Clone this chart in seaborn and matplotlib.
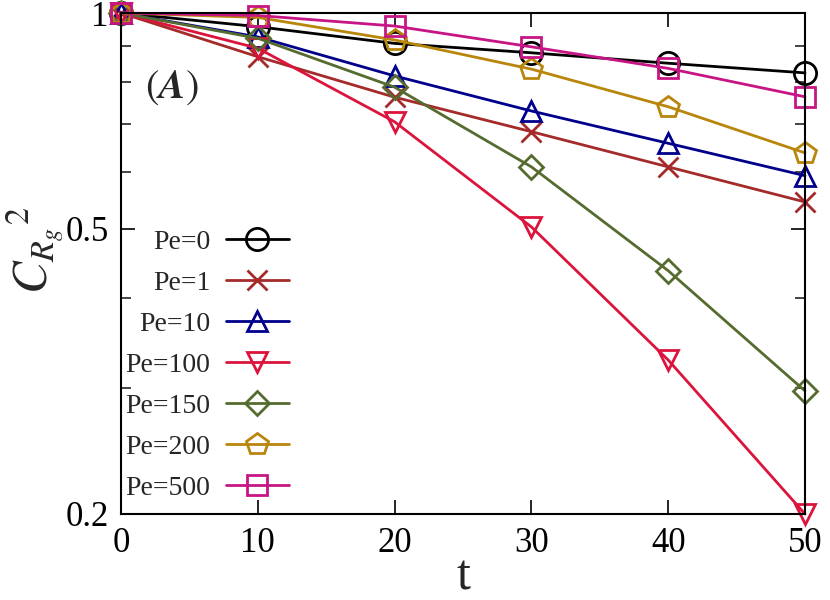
import numpy as np
import pandas as pd
import matplotlib
matplotlib.use("Agg")
import matplotlib.pyplot as plt
import seaborn as sns
from matplotlib.ticker import FixedLocator, NullFormatter

# ---- data ----
t = [0, 10, 20, 30, 40, 50]
labels = ["Pe=0", "Pe=1", "Pe=10", "Pe=100", "Pe=150", "Pe=200", "Pe=500"]
pe0   = [1.0, 0.957, 0.907, 0.880, 0.851, 0.825]
pe1   = [1.0, 0.869, 0.763, 0.683, 0.610, 0.545]
pe10  = [1.0, 0.926, 0.817, 0.730, 0.658, 0.593]
pe100 = [1.0, 0.893, 0.705, 0.503, 0.328, 0.200]
pe150 = [1.0, 0.922, 0.788, 0.610, 0.437, 0.297]
pe200 = [1.0, 0.986, 0.917, 0.835, 0.740, 0.638]
pe500 = [1.0, 0.992, 0.959, 0.897, 0.837, 0.764]
series = [pe0, pe1, pe10, pe100, pe150, pe200, pe500]
xticks = [0, 10, 20, 30, 40, 50]
yticks = [0.2, 0.5, 1.0]
yticklabels = ["0.2", "0.5", "1"]

colors = ["#000000", "#a52a2a", "#00008b", "#dc143c", "#556b2f", "#b8860b", "#c71585"]
markers = ["o", "x", "^", "v", "D", "p", "s"]
msizes = [16, 14, 14, 14, 12.5, 16, 15]

sns.set_theme(style="ticks")
plt.rcParams["font.family"] = ["Liberation Serif", "DejaVu Serif"]
plt.rcParams["mathtext.fontset"] = "stix"

fig = plt.figure(figsize=(8.3, 6.0), dpi=100)
ax = fig.add_axes([121 / 830, 86 / 600, (805 - 121) / 830, (514 - 13) / 600])

rows = []
for lab, vals in zip(labels, series):
    for tt, v in zip(t, vals):
        rows.append({"t": tt, "C": v, "Pe": lab})
df = pd.DataFrame(rows)

for lab, col, mk, ms in zip(labels, colors, markers, msizes):
    sub = df[df["Pe"] == lab]
    sns.lineplot(data=sub, x="t", y="C", ax=ax, color=col, marker=mk,
                 markersize=ms, markerfacecolor="none", markeredgecolor=col,
                 markeredgewidth=2.0, linewidth=2.0, label=lab, clip_on=False,
                 estimator=None, sort=False)

ax.set_yscale("log")
ax.set_xlim(0, 50)
ax.set_ylim(0.2, 1.0)
ax.set_xticks(xticks)
ax.set_xticklabels([str(x) for x in xticks])
ax.yaxis.set_major_locator(FixedLocator(yticks))
ax.set_yticklabels(yticklabels)
ax.yaxis.set_minor_locator(FixedLocator([0.3, 0.4, 0.6, 0.7, 0.8, 0.9]))
ax.yaxis.set_minor_formatter(NullFormatter())
ax.xaxis.set_minor_locator(FixedLocator([]))

ax.tick_params(axis="both", which="major", direction="in", length=10, width=1.2,
               labelsize=25, top=True, right=True, pad=9, colors="black")
ax.tick_params(axis="y", which="minor", direction="in", length=7, width=1.2,
               right=True, left=True)
for sp in ax.spines.values():
    sp.set_linewidth(1.5)
    sp.set_color("black")

ax.set_xlabel("t", fontsize=36, labelpad=-4)
ax.set_ylabel(r"$C_{R_g}{}^{2}$", fontsize=35)
ax.yaxis.set_label_coords((66 - 121) / 684, (514 - 250) / 501)

ax.text((172 - 121) / (805 - 121), 1 - (88 - 13) / (514 - 13),
        r"$(\mathbfit{A})$", transform=ax.transAxes, fontsize=29,
        ha="center", va="center")

leg = ax.legend(loc="upper left", bbox_to_anchor=(-0.01, 0.59), frameon=False,
                markerfirst=False, fontsize=20, handlelength=2.3,
                handletextpad=0.55, labelspacing=0.56, borderaxespad=0.0)

fig.savefig("out.png", dpi=100)
